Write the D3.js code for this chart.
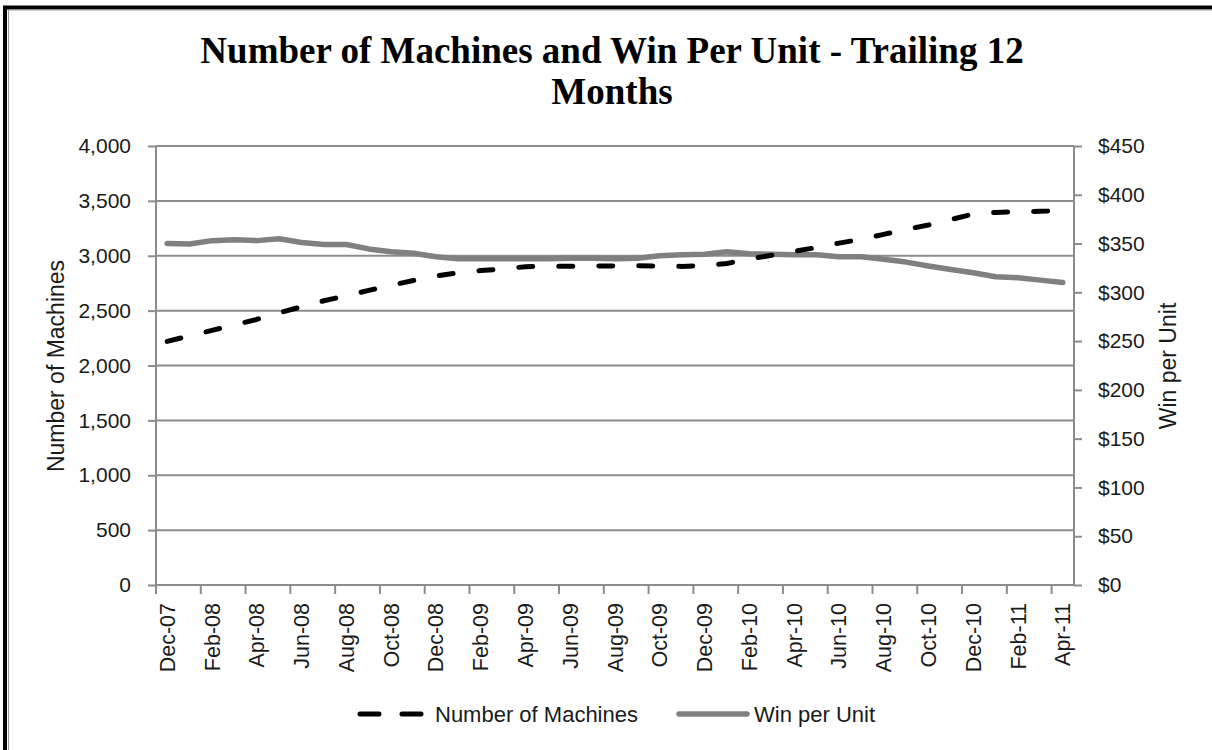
<!DOCTYPE html>
<html>
<head>
<meta charset="utf-8">
<script src="https://cdn.jsdelivr.net/npm/d3@7"></script>
<style>
  html, body { margin: 0; padding: 0; background: #fff; }
  svg { display: block; }
  .sans { font-family: "Liberation Sans", Arial, sans-serif; fill: #1a1a1a; }
</style>
</head>
<body>
<svg id="chart" width="1212" height="750"></svg>
<script>
const months = ["Dec-07","Jan-08","Feb-08","Mar-08","Apr-08","May-08","Jun-08","Jul-08","Aug-08","Sep-08","Oct-08","Nov-08",
  "Dec-08","Jan-09","Feb-09","Mar-09","Apr-09","May-09","Jun-09","Jul-09","Aug-09","Sep-09","Oct-09","Nov-09",
  "Dec-09","Jan-10","Feb-10","Mar-10","Apr-10","May-10","Jun-10","Jul-10","Aug-10","Sep-10","Oct-10","Nov-10",
  "Dec-10","Jan-11","Feb-11","Mar-11","Apr-11"];
const machines = [2220,2270,2320,2370,2420,2480,2535,2590,2635,2685,2730,2775,
  2815,2845,2865,2880,2900,2905,2905,2905,2908,2908,2905,2903,
  2910,2930,2970,3005,3040,3075,3115,3150,3195,3240,3280,3330,
  3380,3395,3400,3405,3410];
const winPerUnit = [350,349.5,353,354,353,355,351,349,349,344.5,341.5,340,
  336.5,334.5,334.5,334.5,334.5,334.5,335,335,334.5,335,337.5,338.5,
  339,341.5,339.5,339,338.5,338.5,336.5,336.5,334,331,327,323.5,
  320,316,315,312.5,310];
const leftTicks = [0,500,1000,1500,2000,2500,3000,3500,4000];
const rightTicks = [0,50,100,150,200,250,300,350,400,450];
const xLabels = months.filter((m,i) => i % 2 === 0);
const seriesNames = ["Number of Machines","Win per Unit"];
const titleLines = ["Number of Machines and Win Per Unit - Trailing 12","Months"];

const svg = d3.select("#chart");
const L = 156, R = 1074, T = 146, B = 585;
const axisColor = "#8c8c8c";

const x = d3.scaleBand().domain(months).range([L, R]).paddingInner(0).paddingOuter(0);
const yL = d3.scaleLinear().domain([0,4000]).range([B, T]);
const yR = d3.scaleLinear().domain([0,450]).range([B, T]);
const cx = m => x(m) + x.bandwidth()/2;

// frame
svg.append("path").attr("d", `M5,750 L5,7.5 L1212,7.5`).attr("fill","none").attr("stroke","#000").attr("stroke-width",4);
svg.append("path").attr("d", `M8.5,750 L8.5,10 L1212,10`).attr("fill","none").attr("stroke","#9a9a9a").attr("stroke-width",1);

// title
svg.append("g").selectAll("text").data(titleLines).join("text")
  .attr("x", 612).attr("y", (d,i) => 63 + i*41)
  .attr("text-anchor","middle")
  .style("font-family","'Liberation Serif','Times New Roman',serif")
  .style("font-weight","bold").style("font-size","37px").style("fill","#000")
  .text(d => d);

// gridlines
svg.append("g").selectAll("line").data(leftTicks).join("line")
  .attr("x1", L).attr("x2", R).attr("y1", d => yL(d)).attr("y2", d => yL(d))
  .attr("stroke", axisColor).attr("stroke-width", 2);

// left axis
const gL = svg.append("g").attr("transform", `translate(${L},0)`)
  .call(d3.axisLeft(yL).tickValues(leftTicks).tickFormat(d3.format(",")).tickSize(8).tickPadding(17));
gL.select(".domain").attr("stroke", axisColor).attr("stroke-width", 2).attr("d", `M0,${T}V${B}`);
gL.selectAll(".tick line").attr("stroke", axisColor).attr("stroke-width", 2);
gL.selectAll(".tick text").attr("class","sans").style("font-size","21px");

// right axis
const gR = svg.append("g").attr("transform", `translate(${R},0)`)
  .call(d3.axisRight(yR).tickValues(rightTicks).tickFormat(d => "$" + d).tickSize(8).tickPadding(16));
gR.select(".domain").attr("stroke", axisColor).attr("stroke-width", 2).attr("d", `M0,${T}V${B}`);
gR.selectAll(".tick line").attr("stroke", axisColor).attr("stroke-width", 2);
gR.selectAll(".tick text").attr("class","sans").style("font-size","21px");

// bottom axis
const gB = svg.append("g").attr("transform", `translate(0,${B})`);
gB.append("line").attr("x1", L).attr("x2", R).attr("y1", 0).attr("y2", 0).attr("stroke", axisColor).attr("stroke-width", 2);
gB.selectAll("line.tk").data(xLabels).join("line").attr("class","tk")
  .attr("x1", d => x(d)).attr("x2", d => x(d)).attr("y1", 0).attr("y2", 9)
  .attr("stroke", axisColor).attr("stroke-width", 2);
gB.selectAll("text").data(xLabels).join("text").attr("class","sans")
  .attr("transform", d => `translate(${cx(d)},18) rotate(-90)`)
  .attr("dy","0.35em").attr("text-anchor","end")
  .style("font-size","21.5px")
  .text(d => d);

// axis titles
svg.append("text").attr("class","sans")
  .attr("transform", `translate(64,366) rotate(-90)`).attr("text-anchor","middle")
  .style("font-size","23px").text(seriesNames[0]);
svg.append("text").attr("class","sans")
  .attr("transform", `translate(1176,366) rotate(-90)`).attr("text-anchor","middle")
  .style("font-size","23px").text(seriesNames[1]);

// lines
const lineM = d3.line().x((d,i) => cx(months[i])).y(d => yL(d));
const lineW = d3.line().x((d,i) => cx(months[i])).y(d => yR(d));
svg.append("path").datum(winPerUnit).attr("d", lineW)
  .attr("fill","none").attr("stroke","#808080").attr("stroke-width",5.5)
  .attr("stroke-linejoin","round").attr("stroke-linecap","round");
svg.append("path").datum(machines).attr("d", lineM)
  .attr("fill","none").attr("stroke","#000").attr("stroke-width",5)
  .attr("stroke-dasharray","14,26").attr("stroke-linecap","round").attr("stroke-linejoin","round");

// legend
const lg = svg.append("g");
lg.append("line").attr("x1",360).attr("x2",421).attr("y1",714).attr("y2",714)
  .attr("stroke","#000").attr("stroke-width",5).attr("stroke-linecap","round").attr("stroke-dasharray","19,23");
lg.append("text").attr("class","sans").attr("x",435).attr("y",714).attr("dy","0.35em")
  .style("font-size","22px").text(seriesNames[0]);
lg.append("line").attr("x1",679).attr("x2",747).attr("y1",714).attr("y2",714)
  .attr("stroke","#808080").attr("stroke-width",5.5).attr("stroke-linecap","round");
lg.append("text").attr("class","sans").attr("x",754).attr("y",714).attr("dy","0.35em")
  .style("font-size","22px").text(seriesNames[1]);
</script>
</body>
</html>
